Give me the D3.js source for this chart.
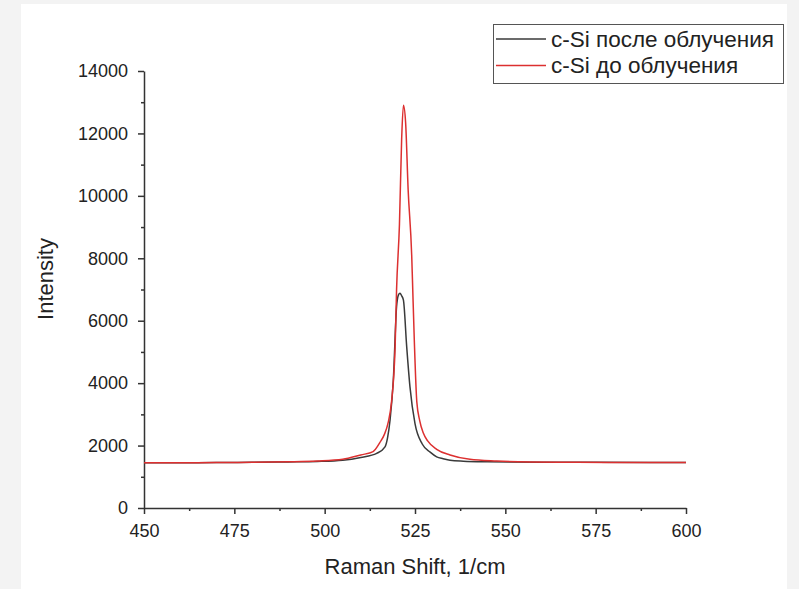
<!DOCTYPE html>
<html><head><meta charset="utf-8">
<script src="https://cdn.jsdelivr.net/npm/d3@7"></script>
<style>
html,body{margin:0;padding:0;background:#f3f3f3;}
svg{display:block;}
</style></head>
<body>
<svg id="chart" width="799" height="589"></svg>
<script>
// Data
const seriesNames = ["c-Si после облучения", "c-Si до облучения"];
const shiftAfter = [450,460,470,480,490,498,505,510,514.4,516.7,517.4,518.1,519.0,519.9,520.4,520.85,521.3,521.8,522.7,523.6,525.0,527.0,529.2,531.0,532.8,534.7,538.4,545,560,575,590,600];
const intensityAfter = [1450,1452,1455,1462,1475,1490,1530,1620,1750,1960,2250,2820,4100,6450,6820,6880,6800,6660,5170,3890,2700,2050,1790,1640,1580,1530,1500,1480,1465,1462,1460,1460];
const shiftBefore = [450,460,470,480,490,498,505,510,513.4,515.3,516.5,517.6,518.5,519.5,519.9,520.7,521.3,521.8,522.4,523.1,524.1,524.3,524.8,525.5,526.3,527.3,528.5,531.0,534.7,540.2,547.6,556.8,570,585,600];
const intensityBefore = [1450,1452,1456,1465,1480,1505,1560,1700,1805,2100,2350,2750,3400,5170,7000,9100,11800,12900,12350,10200,8050,7300,5400,3400,2800,2400,2150,1880,1700,1560,1505,1475,1465,1460,1460];
const xTicks = [450,475,500,525,550,575,600];
const yTicks = [0,2000,4000,6000,8000,10000,12000,14000];
const xTitle = "Raman Shift, 1/cm";
const yTitle = "Intensity";

const svg = d3.select("#chart");
svg.append("rect").attr("x",21).attr("y",4).attr("width",766).attr("height",590).attr("fill","#fff");

const x = d3.scaleLinear().domain([450,600]).range([144,686]);
const y = d3.scaleLinear().domain([0,14000]).range([508,71]);

const axisColor = "#333";
const font = "Liberation Sans, Arial, sans-serif";

// minor ticks
const xMinor = d3.range(450,600.1,12.5).filter(v=>!xTicks.includes(v));
const yMinor = d3.range(1000,14000,2000);

const gx = svg.append("g").attr("transform","translate(0,508)")
  .call(d3.axisBottom(x).tickValues(xTicks).tickSize(6).tickSizeOuter(0).tickPadding(10).tickFormat(d3.format("d")));
const gxm = svg.append("g").attr("transform","translate(0,508)")
  .call(d3.axisBottom(x).tickValues(xMinor).tickSize(3).tickSizeOuter(0).tickFormat(""));
gxm.select(".domain").remove();
const gy = svg.append("g").attr("transform","translate(144,0)")
  .call(d3.axisLeft(y).tickValues(yTicks).tickSize(6).tickSizeOuter(0).tickPadding(10).tickFormat(d3.format("d")));
const gym = svg.append("g").attr("transform","translate(144,0)")
  .call(d3.axisLeft(y).tickValues(yMinor).tickSize(3).tickSizeOuter(0).tickFormat(""));
gym.select(".domain").remove();

svg.selectAll(".domain, .tick line").attr("stroke",axisColor).attr("stroke-width",1.5);
svg.selectAll(".tick text").attr("fill","#222").style("font-family",font).style("font-size","18px");

// Titles
svg.append("text").attr("x",415).attr("y",574).attr("text-anchor","middle")
  .style("font-family",font).style("font-size","22px").attr("fill","#222").text(xTitle);
svg.append("text").attr("transform","translate(53,279) rotate(-90)").attr("text-anchor","middle")
  .style("font-family",font).style("font-size","22px").attr("fill","#222").text(yTitle);

// Lines
const colors = ["#3a3a3a","#dc3030"];
const line = d3.line().x(d=>x(d[0])).y(d=>y(d[1])).curve(d3.curveMonotoneX);
const dataAfter = shiftAfter.map((v,i)=>[v,intensityAfter[i]]);
const dataBefore = shiftBefore.map((v,i)=>[v,intensityBefore[i]]);
svg.append("path").datum(dataAfter).attr("d",line).attr("fill","none").attr("stroke",colors[0]).attr("stroke-width",1.5);
svg.append("path").datum(dataBefore).attr("d",line).attr("fill","none").attr("stroke",colors[1]).attr("stroke-width",1.5);

// Legend
const lg = svg.append("g");
lg.append("rect").attr("x",493.5).attr("y",24.5).attr("width",290).attr("height",59)
  .attr("fill","#fff").attr("stroke","#555").attr("stroke-width",1);
seriesNames.forEach((n,i)=>{
  const ly = 39 + i*26.5;
  lg.append("line").attr("x1",496).attr("x2",546).attr("y1",ly).attr("y2",ly)
    .attr("stroke",colors[i]).attr("stroke-width",1.5);
  lg.append("text").attr("x",551).attr("y",ly+7.5).style("font-family",font).style("font-size","22.5px")
    .attr("fill","#222").text(n);
});
</script>
</body></html>
